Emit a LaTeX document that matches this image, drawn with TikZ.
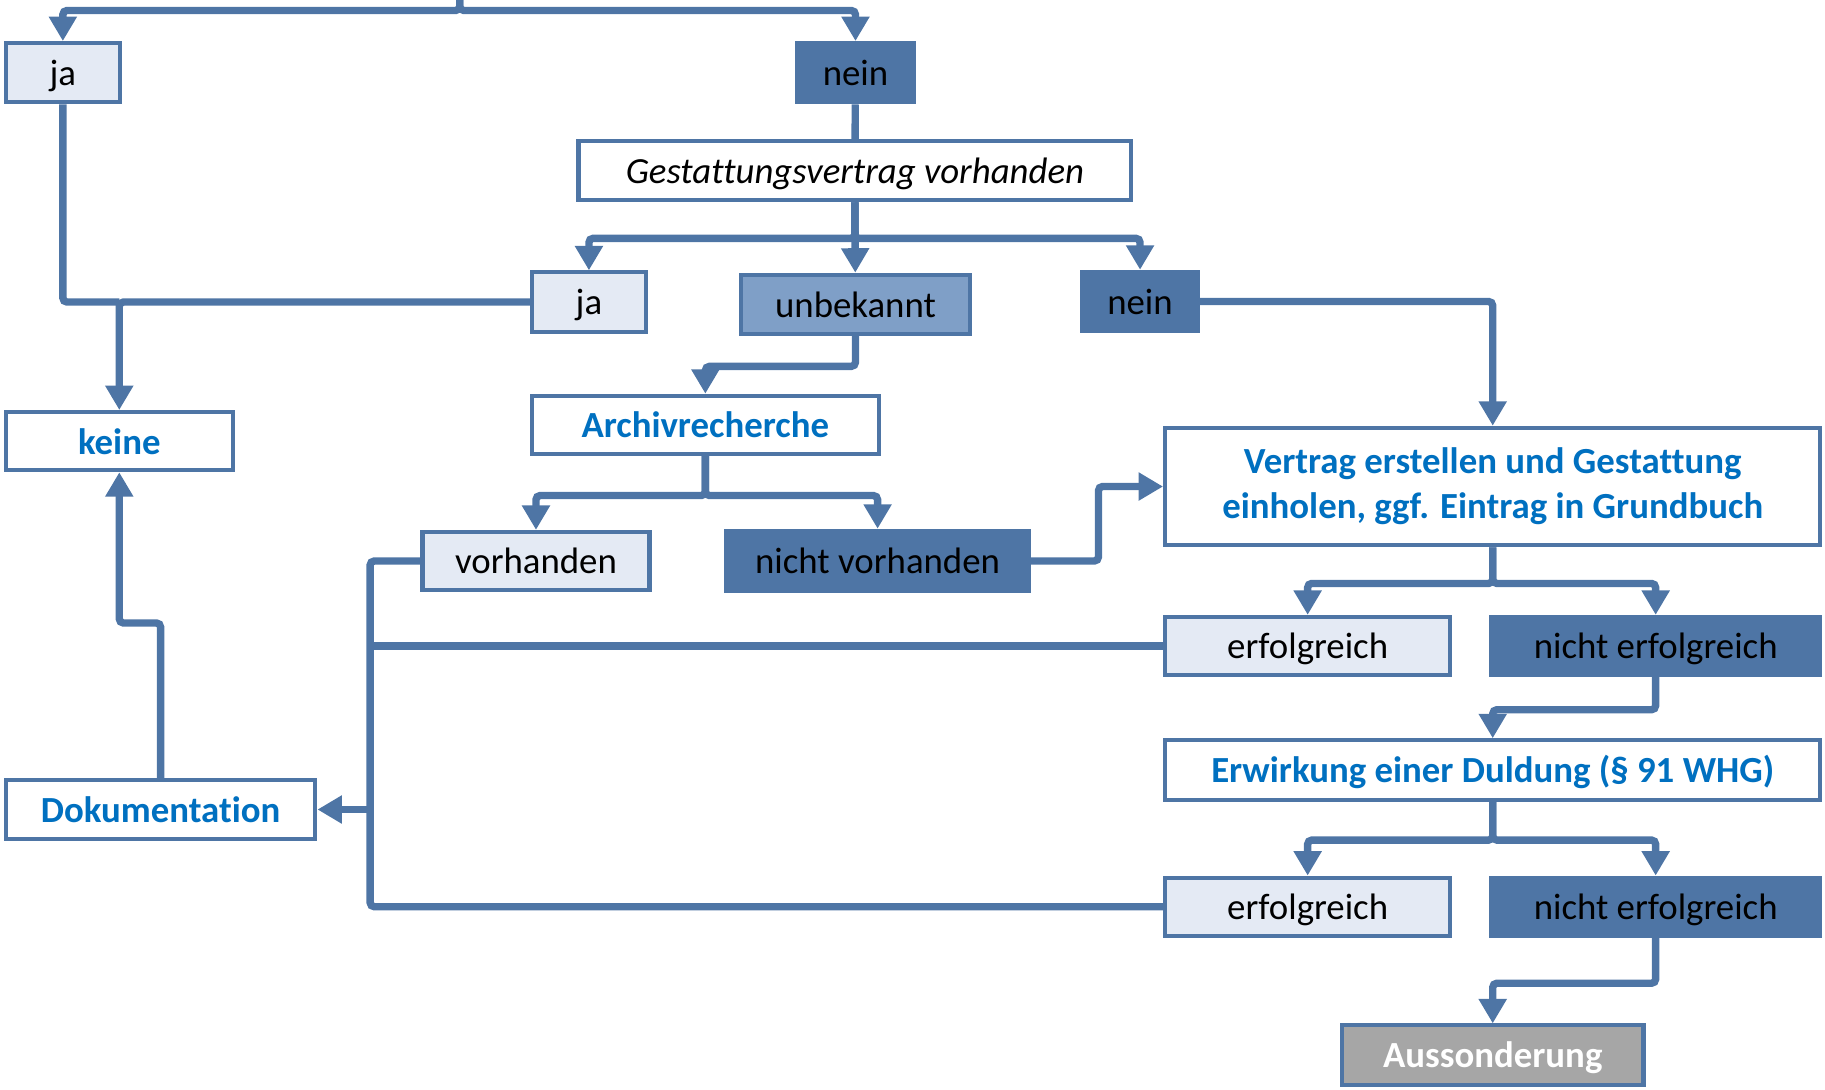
\documentclass[tikz,border=0pt]{standalone}
\usepackage{fontspec}
\setmainfont[Ligatures=NoCommon]{Carlito}
\usetikzlibrary{arrows.meta}
\definecolor{dblue}{HTML}{4E75A5}
\definecolor{mblue}{HTML}{7F9FC7}
\definecolor{lblue}{HTML}{E4EAF4}
\definecolor{tblue}{HTML}{0070C0}
\definecolor{agray}{HTML}{A6A6A6}

\begin{document}
\begin{tikzpicture}
		\tikzset{box/.style={draw=dblue,line width=2pt,inner sep=0pt,minimum height=1.02cm,
				text height=16pt,text depth=3.4pt,font=\fontsize{18}{22}\selectfont}}
		\tikzset{light/.style={box,fill=lblue},dark/.style={box,fill=dblue},mid/.style={box,fill=mblue},
			hdr/.style={box,fill=white,text=tblue,font=\fontsize{18}{22}\selectfont\bfseries},
			ques/.style={box,fill=white,font=\fontsize{18}{22}\selectfont\itshape},
			grey/.style={box,fill=agray,text=white,font=\fontsize{18}{22}\selectfont\bfseries}}
		\tikzset{link/.style={draw=dblue,line width=3.6pt,rounded corners=2pt},
			arr/.style={link,-{Triangle[width=0.46cm,length=0.42cm]}}}
		\useasboundingbox (0,0) rectangle (31.36,-18.72);
		\coordinate (top) at (7.90,0);
		\node[light,minimum width=1.96cm] (ja1) at (1.08,-1.25) {ja};
		\node[dark,minimum width=2.00cm] (nein1) at (14.70,-1.25) {nein};
		\node[ques,minimum width=9.50cm] (gest) at (14.69,-2.93) {Gestattungsvertrag vorhanden};
		\node[light,minimum width=1.96cm] (ja2) at (10.12,-5.19) {ja};
		\node[mid,minimum width=3.92cm] (unbek) at (14.70,-5.23) {unbekannt};
		\node[dark,minimum width=1.98cm] (nein2) at (19.59,-5.18) {nein};
		\node[hdr,minimum width=3.90cm,minimum height=1.00cm] (keine) at (2.05,-7.58) {keine};
		\node[hdr,minimum width=5.96cm,minimum height=1.00cm] (archiv) at (12.12,-7.30) {Archivrecherche};
		\node[light,minimum width=3.90cm,minimum height=1.00cm] (vorh) at (9.21,-9.64) {vorhanden};
		\node[dark,minimum width=5.20cm,minimum height=1.04cm] (nvorh) at (15.08,-9.64) {nicht vorhanden};
		\node[hdr,minimum width=11.26cm,minimum height=2.02cm,align=center,text height=,text depth=] (vertrag) at (25.65,-8.36)
			{Vertrag erstellen und Gestattung\\einholen, ggf. Eintrag in Grundbuch};
		\node[light,minimum width=4.90cm,minimum height=1.00cm] (erf1) at (22.47,-11.10) {erfolgreich};
		\node[dark,minimum width=5.66cm,minimum height=1.00cm] (nerf1) at (28.45,-11.10) {nicht erfolgreich};
		\node[hdr,minimum width=11.26cm] (erw) at (25.65,-13.23) {Erwirkung einer Duldung (§ 91 WHG)};
		\node[light,minimum width=4.90cm,minimum height=1.00cm] (erf2) at (22.47,-15.58) {erfolgreich};
		\node[dark,minimum width=5.66cm,minimum height=1.00cm] (nerf2) at (28.45,-15.58) {nicht erfolgreich};
		\node[grey,minimum width=5.18cm] (auss) at (25.65,-18.13) {Aussonderung};
		\node[hdr,minimum width=5.32cm] (doku) at (2.76,-13.91) {Dokumentation};
		\coordinate (sam) at (6.36,-13.91);

		\draw[arr] (top) -- ++(0,-0.18) -| (ja1);
		\draw[arr] (top) -- ++(0,-0.18) -| (nein1);
		\draw[link] (nein1) -- (gest);
		\draw[arr] (gest.south) -- ++(0,-0.62) -| (ja2);
		\draw[arr] (gest.south) -- (unbek);
		\draw[arr] (gest.south) -- ++(0,-0.62) -| (nein2);
		\draw[link] (ja1.south) |- (keine.north |- ja2.west);
		\draw[arr] (ja2.west) -| (keine);
		\draw[arr] (unbek.south) -- ++(0,-0.52) -| (archiv);
		\draw[arr] (archiv.south) -- ++(0,-0.68) -| (vorh);
		\draw[arr] (archiv.south) -- ++(0,-0.68) -| (nvorh);
		\draw[arr] (nvorh.east) -- ++(1.16,0) |- (vertrag.west);
		\draw[arr] (nein2.east) -| (vertrag);
		\draw[arr] (vertrag.south) -- ++(0,-0.62) -| (erf1);
		\draw[arr] (vertrag.south) -- ++(0,-0.62) -| (nerf1);
		\draw[arr] (nerf1.south) -- ++(0,-0.56) -| (erw);
		\draw[arr] (erw.south) -- ++(0,-0.66) -| (erf2);
		\draw[arr] (erw.south) -- ++(0,-0.66) -| (nerf2);
		\draw[arr] (nerf2.south) -- ++(0,-0.78) -| (auss);
		\draw[link] (vorh.west) -| (sam |- erf2.west) -- (erf2.west);
		\draw[link] (erf1.west) -- (sam |- erf1.west);
		\draw[arr] (sam) -- (doku);
		\draw[arr] (doku.north) -- ++(0,2.66) -| (keine);
	\end{tikzpicture}
\end{document}
